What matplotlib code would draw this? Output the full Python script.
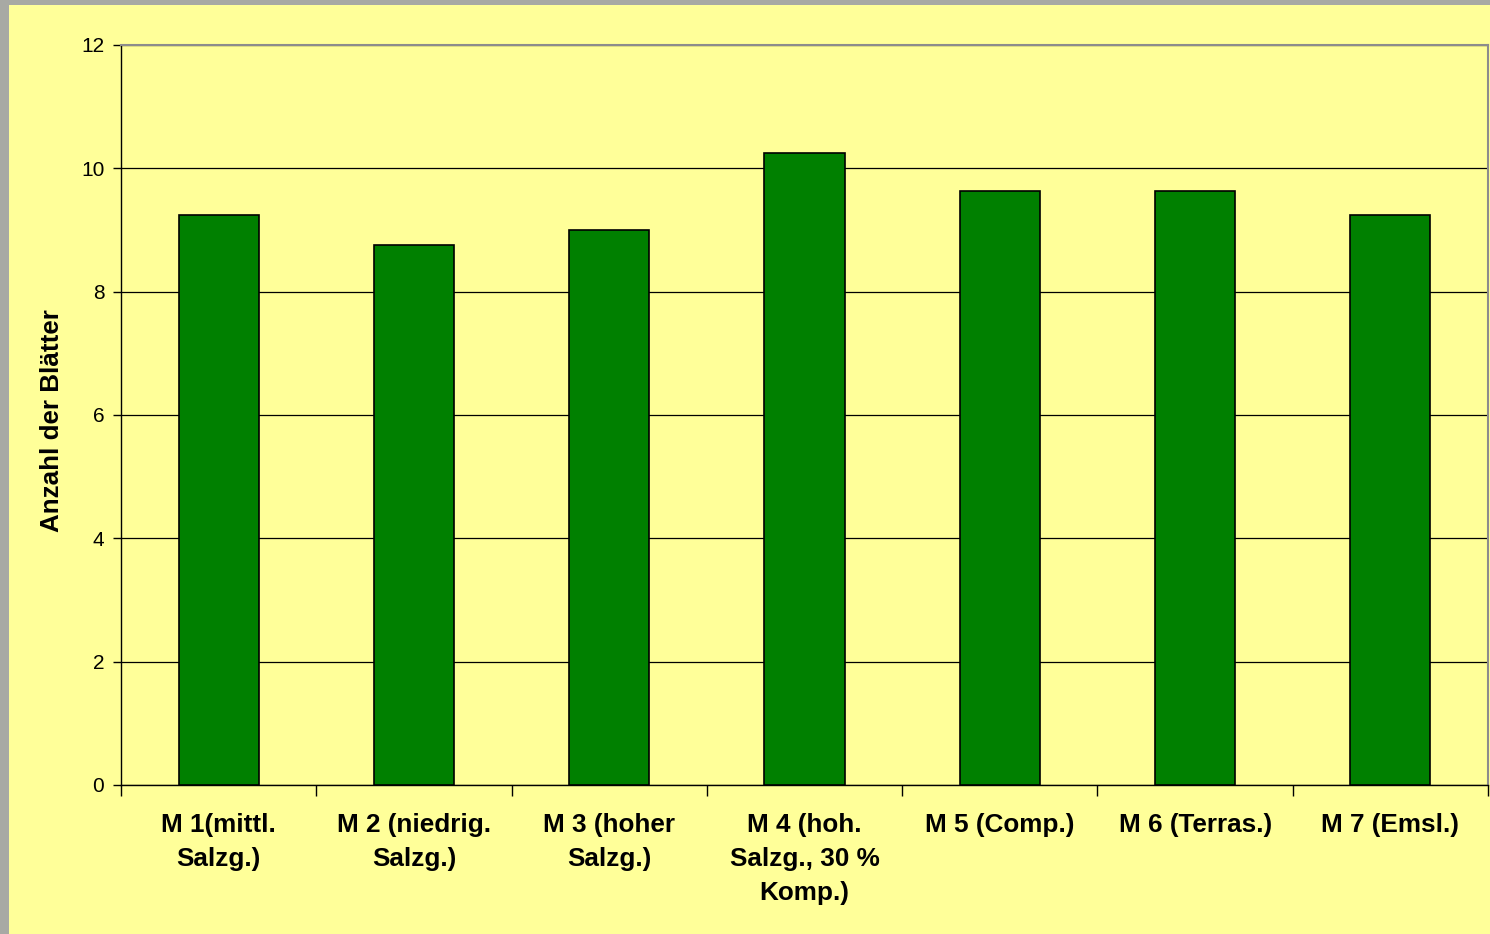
import matplotlib
matplotlib.use("Agg")
import matplotlib.pyplot as plt
from matplotlib.patches import Rectangle
import numpy as np

categories = [
    "M 1(mittl.\nSalzg.)",
    "M 2 (niedrig.\nSalzg.)",
    "M 3 (hoher\nSalzg.)",
    "M 4 (hoh.\nSalzg., 30 %\nKomp.)",
    "M 5 (Comp.)",
    "M 6 (Terras.)",
    "M 7 (Emsl.)",
]
leaf_counts = [9.25, 8.75, 9.0, 10.25, 9.625, 9.625, 9.25]
y_ticks = [0, 2, 4, 6, 8, 10, 12]
y_label = "Anzahl der Blätter"

plt.rcParams["font.family"] = ["Liberation Sans", "DejaVu Sans"]

W, H = 1490, 934
fig = plt.figure(figsize=(W / 100, H / 100), dpi=100, facecolor="#a8a9a4")

# yellow chart panel behind the axes
fig.patches.append(Rectangle((9 / W, 0), 1 - 9 / W, 1 - 5 / H,
                             transform=fig.transFigure, facecolor="#FFFF99",
                             edgecolor="none", zorder=-10))

left, right, top, bottom = 121, 1488, 45, 785
ax = fig.add_axes([left / W, 1 - bottom / H, (right - left) / W, (bottom - top) / H])
ax.set_facecolor("#FFFF99")

x = np.arange(len(categories))
ax.bar(x, leaf_counts, width=0.41, color="#008000", edgecolor="black",
       linewidth=1.2, zorder=3)

ax.set_xlim(-0.5, len(categories) - 0.5)
ax.set_ylim(0, 12)
ax.set_yticks(y_ticks)
ax.set_yticklabels([str(t) for t in y_ticks])
ax.yaxis.grid(True, color="black", linewidth=0.9, zorder=1)
ax.set_axisbelow(True)

# category labels at centres, tick marks at boundaries
ax.set_xticks(x)
ax.set_xticklabels(categories, fontsize=18.8, fontweight="bold",
                   linespacing=1.53, multialignment="center")
ax.set_xticks(np.arange(len(categories) + 1) - 0.5, minor=True)
ax.tick_params(axis="x", which="major", length=0, pad=20)
ax.tick_params(axis="x", which="minor", length=8, width=1, color="black",
               direction="out")
ax.tick_params(axis="y", length=6, width=1, color="black", labelsize=15, pad=6)

for side in ("left", "bottom"):
    ax.spines[side].set_color("black")
    ax.spines[side].set_linewidth(1.0)
for side in ("top", "right"):
    ax.spines[side].set_color("#8c8c8c")
    ax.spines[side].set_linewidth(1.5)

ax.set_ylabel(y_label, fontsize=18.7, fontweight="bold")
ax.yaxis.label.set_verticalalignment("center")
ax.yaxis.set_label_coords((52 - left) / (right - left), 0.493)

fig.savefig("out.png", dpi=100, facecolor=fig.get_facecolor())
